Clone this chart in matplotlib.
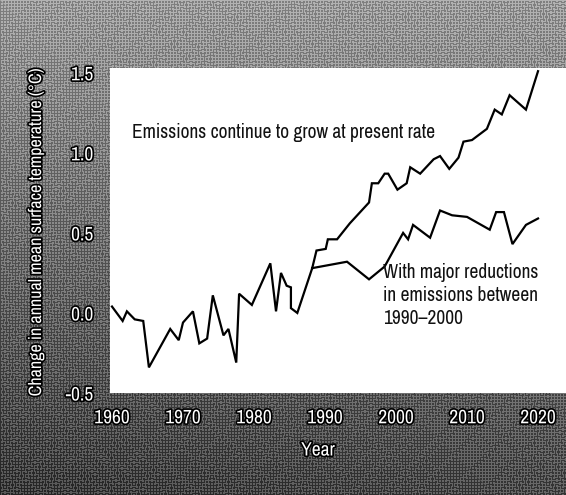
import matplotlib
matplotlib.use("Agg")
import matplotlib.pyplot as plt
import matplotlib.patheffects as pe
import numpy as np
from matplotlib import font_manager
from matplotlib.font_manager import FontProperties

# ---- data ----
hist_years = [1960.0, 1961.5, 1962.1, 1963.2, 1964.4, 1965.2, 1968.2, 1969.4, 1970.0,
              1971.4, 1972.3, 1973.4, 1974.2, 1975.7, 1976.4, 1977.5, 1977.9, 1979.7,
              1982.3, 1983.1, 1983.8, 1984.6, 1985.2, 1985.2, 1986.1, 1988.2]
hist_vals = [0.04, -0.05, 0.01, -0.04, -0.05, -0.34, -0.10, -0.17, -0.06,
             0.01, -0.19, -0.16, 0.11, -0.14, -0.10, -0.31, 0.12, 0.05,
             0.31, 0.01, 0.25, 0.17, 0.16, 0.03, 0.00, 0.28]

grow_years = [1988.2, 1988.8, 1990.1, 1990.4, 1991.7, 1993.5, 1996.2, 1996.6, 1997.5,
              1998.4, 1998.9, 2000.2, 2001.5, 2002.0, 2003.4, 2005.3, 2006.2, 2007.5,
              2008.8, 2009.5, 2010.7, 2012.8, 2013.9, 2014.9, 2016.0, 2018.3, 2020.0]
grow_vals = [0.28, 0.39, 0.40, 0.46, 0.46, 0.56, 0.69, 0.81, 0.81,
             0.87, 0.87, 0.77, 0.81, 0.91, 0.87, 0.96, 0.98, 0.90,
             0.97, 1.07, 1.08, 1.15, 1.27, 1.24, 1.36, 1.27, 1.51]

reduce_years = [1988.2, 1993.1, 1996.2, 1998.4, 2001.0, 2001.7, 2002.4, 2004.8, 2006.2,
                2007.9, 2010.0, 2013.2, 2014.1, 2015.2, 2016.4, 2018.3, 2020.0]
reduce_vals = [0.28, 0.32, 0.21, 0.29, 0.50, 0.46, 0.55, 0.47, 0.64,
               0.61, 0.60, 0.52, 0.63, 0.63, 0.43, 0.55, 0.59]

x_ticks = [1960, 1970, 1980, 1990, 2000, 2010, 2020]
y_ticks = [-0.5, 0.0, 0.5, 1.0, 1.5]
y_tick_labels = ["-0.5", "0.0", "0.5", "1.0", "1.5"]

label_grow = "Emissions continue to grow at present rate"
label_reduce = "With major reductions\nin emissions between\n1990\u20132000"
x_label = "Year"
y_label = "Change in annual mean surface temperature (\u00b0C)"

# ---- pick a condensed font if one is installed ----
def pick_font():
    entries = font_manager.fontManager.ttflist
    for e in entries:
        if e.name == "Liberation Sans Narrow" and e.weight in (400, "normal") and e.style == "normal":
            return e.fname
    for e in entries:
        n = e.name.lower()
        if ("condensed" in n or "narrow" in n) and e.style == "normal" \
                and "bold" not in e.fname.lower() and "light" not in e.fname.lower():
            return e.fname
    for e in entries:
        if e.stretch in ("condensed", "semi-condensed", "extra-condensed") \
                and e.style == "normal" and e.weight in (400, "normal"):
            return e.fname
    for e in entries:
        if e.name == "Roboto" and e.style == "normal" and e.weight in (400, "normal"):
            return e.fname
    return None

fpath = pick_font()
def fp(size):
    if fpath:
        return FontProperties(fname=fpath, size=size)
    return FontProperties(family="DejaVu Sans", size=size)

W, H = 566, 495
fig = plt.figure(figsize=(W / 100, H / 100), dpi=100)

# background: gray gradient with a fine halftone-like diagonal texture
bg = fig.add_axes([0, 0, 1, 1])
py, px = np.mgrid[0:H, 0:W]
fy = py / H
fx = px / W
base = 0.60 - 0.30 * fy - 0.06 * (1 - fx) * fy
texture = 0.10 * np.sign(np.sin((px + py) * np.pi / 3.0) * np.sin((px - py) * np.pi / 3.0))
grad = np.clip(base + texture, 0, 1)
bg.imshow(grad, cmap="gray", vmin=0, vmax=1, aspect="auto",
          extent=[0, 1, 0, 1], origin="upper", interpolation="nearest")
bg.set_axis_off()

ax = fig.add_axes([110 / W, (H - 393) / H, 456 / W, 325 / H])
ax.set_facecolor("white")
ax.plot(hist_years, hist_vals, color="black", lw=1.6, solid_joinstyle="miter")
ax.plot(grow_years, grow_vals, color="black", lw=1.6, solid_joinstyle="miter")
ax.plot(reduce_years, reduce_vals, color="black", lw=1.6, solid_joinstyle="miter")

ax.set_xlim(1959.72, 2023.94)
ax.set_ylim(-0.5, 1.53)
for s in ax.spines.values():
    s.set_visible(False)

renderer = fig.canvas.get_renderer()

def fit_size(text, target_px, base=13.0):
    t = fig.text(0, 0, text, fontproperties=fp(base))
    w = t.get_window_extent(renderer).width
    t.remove()
    return base * target_px / w if w > 0 else base

main_size = fit_size(label_grow, 322)
main_size = min(max(main_size, 10.0), 14.0)
tick_size = min(max(fit_size("1970", 36), 10.0), 14.0)
ylab_size = min(max(fit_size(y_label, 330), 9.0), 14.0)

outline = [pe.withStroke(linewidth=2.4, foreground="black")]
ax.set_xticks(x_ticks)
ax.set_xticklabels([str(t) for t in x_ticks])
ax.set_yticks(y_ticks)
ax.set_yticklabels(y_tick_labels)
ax.tick_params(axis="x", length=0, pad=11, labelcolor="white")
ax.tick_params(axis="y", length=0, pad=12, labelcolor="white")
for lab in ax.get_xticklabels() + ax.get_yticklabels():
    lab.set_fontproperties(fp(tick_size))
    lab.set_path_effects(outline)

ax.text(1962.8, 1.13, label_grow, fontproperties=fp(main_size), color="#111111",
        va="center", ha="left")
ax.text(1998.2, 0.11, label_reduce, fontproperties=fp(main_size), color="#111111",
        va="center", ha="left", linespacing=1.25)

fig.text(318 / W, 1 - 450 / H, x_label, fontproperties=fp(tick_size), color="white",
         ha="center", va="center", path_effects=outline)
fig.text(36 / W, 1 - 232 / H, y_label, fontproperties=fp(ylab_size), color="white",
         ha="center", va="center", rotation=90, path_effects=outline)

fig.savefig("out.png", dpi=100)
